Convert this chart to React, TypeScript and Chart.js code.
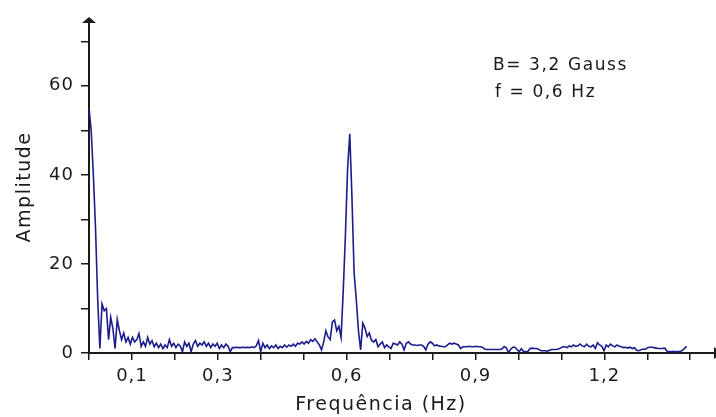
import React, { useEffect, useRef } from 'react';
import { Chart, registerables } from 'chart.js';

Chart.register(...registerables);

// Spectrum bin spacing (Hz)
const FREQ_STEP = 0.00506;

// Amplitude of each spectrum bin, starting at 0 Hz
const AMPLITUDE: number[] = [
  55, 50, 40, 28, 12, 1, 11, 9.5, 10, 3,
  8, 5.5, 1, 7.5, 5, 3, 4.5, 2.5, 3.5, 2,
  3.5, 2.5, 3, 4.4, 1.5, 2.5, 1.5, 3.5, 2, 2.8,
  1.4, 2.2, 1.2, 2, 1, 1.8, 1.2, 3, 1.5, 2.2,
  1.2, 2, 1.6, 0.3, 2.5, 1.5, 2.2, 0.3, 2, 2.8,
  1.5, 2.2, 1.8, 2.5, 1.5, 2.2, 1.2, 2, 1.5, 2.2,
  1, 1.8, 1.2, 2, 1.5, 0.3, 1.2, 1.2, 1.3, 1.2,
  1.2, 1.3, 1.2, 1.3, 1.2, 1.4, 1.2, 1.6, 2.8, 0.3,
  2.2, 1.2, 1.8, 1, 1.6, 1.2, 1.8, 1, 1.5, 1.2,
  1.8, 1.3, 1.8, 1.5, 2, 1.5, 2.2, 2, 2.5, 2,
  2.6, 2.2, 3, 2.6, 3.2, 2.5, 1.8, 0.7, 2.5, 5,
  3.6, 3, 7, 7.4, 5, 6, 3.5, 14, 26.5, 41.5,
  49.2, 35, 18, 12, 5, 0.7, 6.7, 5.6, 3.7, 4.5,
  2.8, 2.5, 3, 1.4, 2, 2.5, 1.2, 1.8, 1.4, 1,
  2.2, 2, 1.8, 2.5, 2, 0.7, 2.2, 2.5, 2, 1.8,
  1.8, 1.7, 1.8, 1.8, 1.5, 0.7, 2, 2.5, 2.2, 1.6,
  1.8, 1.6, 1.5, 1.4, 1.4, 1.8, 2.2, 2, 2.2, 2,
  1.8, 1, 1.4, 1.4, 1.4, 1.5, 1.4, 1.4, 1.5, 1.4,
  1.4, 1.3, 0.9, 0.8, 0.8, 0.8, 0.8, 0.8, 0.8, 0.8,
  0.9, 1.4, 1.2, 0.1, 0.8, 1.3, 1.3, 0.8, 0.3, 1,
  0.3, 0.3, 0.4, 1, 1.1, 1, 1, 0.8, 0.5, 0.5,
  0.5, 0.4, 0.6, 0.8, 0.8, 0.8, 0.9, 1.1, 1.4, 1.4,
  1.2, 1.6, 1.4, 1.8, 1.5, 1.6, 2, 1.6, 1.4, 2,
  1.5, 1.4, 1.8, 1, 2.3, 1.8, 1.5, 0.5, 1.8, 1.4,
  2, 1.6, 1.4, 1.8, 1.5, 1.4, 1.2, 1.3, 1.1, 1.3,
  1, 1.2, 0.6, 0.5, 0.7, 0.9, 0.8, 1.2, 1.3, 1.3,
  1.2, 1.1, 1, 1, 1, 1.1, 0.4, 0.3, 0.3, 0.4,
  0.3, 0.3, 0.3, 0.6, 1, 1.5,
];

const X_MAX = 1.46;
const Y_MAX = 75;
const X_TICK_STEP = 0.1;
const Y_TICK_STEP = 10;
const X_LABELS = [0.1, 0.3, 0.6, 0.9, 1.2];
const Y_LABELS = [0, 20, 40, 60];
const X_TITLE = 'Frequência (Hz)';
const Y_TITLE = 'Amplitude';
const NOTES = ['B= 3,2 Gauss', 'f = 0,6 Hz'];

const FONT = '"DejaVu Sans", Verdana, sans-serif';
const INK = '#1a1a1a';
const LINE = '#1c1c8c';

const overlay = {
  id: 'overlay',
  beforeDraw(chart: any) {
    chart.ctx.letterSpacing = '1px';
  },
  afterDraw(chart: any) {
    const { ctx, chartArea } = chart;
    ctx.save();
    ctx.fillStyle = INK;
    // arrow at top of y axis
    const ax = chartArea.left;
    ctx.beginPath();
    ctx.moveTo(ax - 7, chartArea.top + 4);
    ctx.lineTo(ax + 7, chartArea.top + 4);
    ctx.lineTo(ax, chartArea.top - 2);
    ctx.closePath();
    ctx.fill();
    // arrow at right of x axis
    const ay = chartArea.bottom;
    ctx.beginPath();
    ctx.moveTo(chartArea.right - 2, ay - 6);
    ctx.lineTo(chartArea.right - 2, ay + 6);
    ctx.lineTo(chartArea.right + 6, ay);
    ctx.closePath();
    ctx.fill();

    ctx.letterSpacing = '1.5px';
    // axis titles
    ctx.font = `19px ${FONT}`;
    ctx.textAlign = 'center';
    ctx.textBaseline = 'middle';
    ctx.fillText(X_TITLE, 381, 405);
    ctx.save();
    ctx.translate(25, 187);
    ctx.rotate(-Math.PI / 2);
    ctx.fillText(Y_TITLE, 0, 0);
    ctx.restore();

    // annotation
    ctx.font = `17px ${FONT}`;
    ctx.textAlign = 'left';
    ctx.letterSpacing = '1.6px';
    ctx.fillText(NOTES[0], 493, 66);
    ctx.fillText(NOTES[1], 495, 93);
    ctx.restore();
  },
};

export default function App() {
  const ref = useRef<HTMLCanvasElement | null>(null);

  useEffect(() => {
    if (!ref.current) return;
    const points = AMPLITUDE.map((v, i) => ({ x: i * FREQ_STEP, y: v }));
    const chart = new Chart(ref.current, {
      type: 'line',
      data: {
        datasets: [
          {
            data: points,
            borderColor: LINE,
            borderWidth: 1.6,
            pointRadius: 0,
            tension: 0,
            fill: false,
          },
        ],
      },
      options: {
        animation: false,
        responsive: false,
        devicePixelRatio: 1,
        layout: { padding: { top: 19, right: 0, left: 0, bottom: 0 } },
        plugins: {
          legend: { display: false },
          tooltip: { enabled: false },
        },
        scales: {
          x: {
            type: 'linear',
            min: 0,
            max: X_MAX,
            afterFit: (s: any) => {
              s.height = 64;
            },
            border: { display: true, color: INK, width: 2 },
            grid: {
              drawOnChartArea: false,
              drawTicks: true,
              tickLength: 7,
              color: INK,
              lineWidth: 1.5,
            },
            ticks: {
              stepSize: X_TICK_STEP,
              includeBounds: false,
              autoSkip: false,
              maxRotation: 0,
              padding: 6,
              color: INK,
              font: { family: FONT, size: 18 },
              callback: (v: any) => {
                const r = Math.round(Number(v) * 10) / 10;
                return X_LABELS.some((l) => Math.abs(l - r) < 1e-6) && Math.abs(Number(v) - r) < 1e-6
                  ? r.toFixed(1).replace('.', ',')
                  : '';
              },
            },
          },
          y: {
            type: 'linear',
            min: 0,
            max: Y_MAX,
            afterFit: (s: any) => {
              s.width = 89;
            },
            border: { display: true, color: INK, width: 2 },
            grid: {
              drawOnChartArea: false,
              drawTicks: true,
              tickLength: 8,
              color: INK,
              lineWidth: 1.5,
            },
            ticks: {
              stepSize: Y_TICK_STEP,
              includeBounds: false,
              autoSkip: false,
              padding: 7,
              color: INK,
              font: { family: FONT, size: 18 },
              callback: (v: any) => (Y_LABELS.includes(Number(v)) ? String(v) : ''),
            },
          },
        },
      },
      plugins: [overlay],
    });
    return () => chart.destroy();
  }, []);

  return (
    <div style={{ position: 'fixed', left: 0, top: 0, width: 716, height: 417, background: '#fff' }}>
      <canvas ref={ref} width={716} height={417} />
    </div>
  );
}
